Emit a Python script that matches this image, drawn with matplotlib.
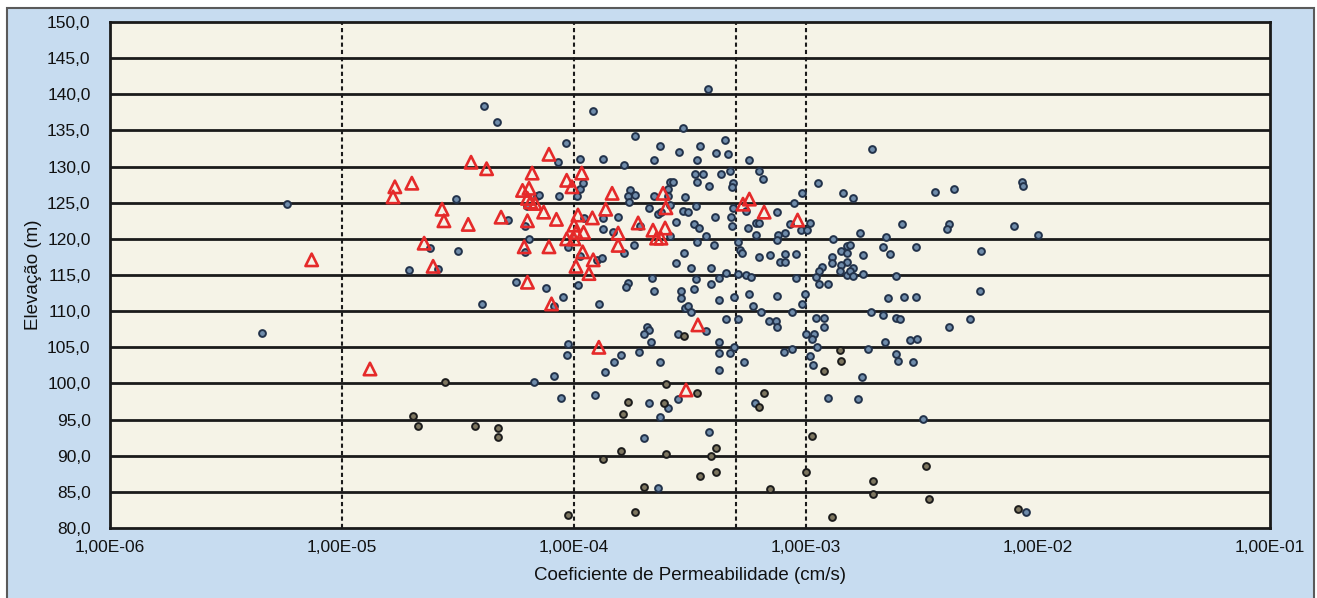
import matplotlib.pyplot as plt
from matplotlib.patches import Rectangle
from matplotlib.ticker import FuncFormatter, FixedLocator

plt.rcParams['font.family'] = ['Liberation Sans', 'DejaVu Sans']

# permeability (cm/s) and elevation (m) - blue samples
k_azul = [5.8e-6, 4.5e-6, 2.4e-5, 2.6e-5, 1.95e-5, 4.1e-5, 4.66e-5, 3.1e-5, 5.2e-5, 3.16e-5,
          1.21e-4, 9.2e-5, 8.5e-5, 1.06e-4, 1.33e-4, 6.9e-5, 7.1e-5, 8.6e-5, 6.3e-5, 1.03e-4,
          1.06e-4, 1.09e-4, 1.1e-4, 1.33e-4, 1.55e-4, 1.33e-4, 1.47e-4, 9.4e-5, 1.06e-4, 1.26e-4,
          1.32e-4, 6.15e-5, 6.4e-5, 6.15e-5, 3.78e-4, 2.95e-4, 1.83e-4, 2.35e-4, 2.84e-4, 3.49e-4,
          4.48e-4, 4.1e-4, 4.6e-4, 2.21e-4, 3.39e-4, 5.7e-4, 1.64e-4, 3.32e-4, 3.6e-4, 4.3e-4,
          4.7e-4, 6.3e-4, 6.5e-4, 3.4e-4, 3.8e-4, 2.6e-4, 2.68e-4, 2.55e-4, 4.85e-4, 4.8e-4,
          1.74e-4, 1.71e-4, 1.83e-4, 2.21e-4, 2.55e-4, 3.0e-4, 1.73e-4, 2.1e-4, 3.35e-4, 2.6e-4,
          2.95e-4, 3.1e-4, 2.3e-4, 2.37e-4, 2.76e-4, 4.05e-4, 4.75e-4, 4.85e-4, 1.93e-4, 3.3e-4,
          3.45e-4, 4.8e-4, 5.6e-4, 6.1e-4, 6.3e-4, 7.5e-4, 8.5e-4, 9.5e-4, 9.6e-4, 8.9e-4,
          5.5e-4, 2.6e-4, 3.7e-4, 3.4e-4, 4.0e-4, 1.81e-4, 1.64e-4, 2.97e-4, 2.76e-4, 3.2e-4,
          3.9e-4, 5.1e-4, 5.2e-4, 5.3e-4, 6.1e-4, 7.6e-4, 7.5e-4, 8.1e-4, 6.3e-4, 7.0e-4,
          7.7e-4, 8.1e-4, 8.1e-4, 9.1e-4, 1.92e-3, 1.13e-3, 1.44e-3, 1.6e-3, 3.6e-3, 4.35e-3,
          2.6e-3, 4.13e-3, 4.05e-3, 1.71e-3, 2.21e-3, 1.31e-3, 1.04e-3, 1.01e-3, 1.5e-3, 1.55e-3,
          1.42e-3, 1.5e-3, 1.76e-3, 2.15e-3, 2.3e-3, 2.98e-3, 5.7e-3, 1.3e-3, 1.29e-3, 1.5e-3,
          1.17e-3, 1.42e-3, 1.6e-3, 8.5e-3, 8.6e-3, 7.9e-3, 1.0e-2, 2.44e-3, 1.76e-3, 2.26e-3,
          2.64e-3, 2.98e-3, 5.6e-3, 1.9e-3, 2.15e-3, 2.45e-3, 2.55e-3, 4.13e-3, 5.1e-3, 2.2e-3,
          2.8e-3, 3.0e-3, 1.85e-3, 2.45e-3, 2.5e-3, 2.9e-3, 1.75e-3, 1.68e-3, 3.2e-3, 8.9e-3,
          1.14e-3, 1.4e-3, 1.5e-3, 1.1e-3, 1.14e-3, 1.25e-3, 9.9e-4, 9.6e-4, 1.1e-3, 1.2e-3,
          1.2e-3, 1.0e-3, 1.08e-3, 1.06e-3, 1.12e-3, 1.04e-3, 1.07e-3, 1.25e-3, 4.5e-4, 2.17e-4,
          3.35e-4, 4.2e-4, 5.1e-4, 5.5e-4, 5.8e-4, 9.1e-4, 1.71e-4, 1.67e-4, 2.21e-4, 2.9e-4,
          2.9e-4, 3.3e-4, 3.9e-4, 4.2e-4, 4.9e-4, 5.7e-4, 7.5e-4, 5.9e-4, 6.4e-4, 8.7e-4,
          3.0e-4, 3.1e-4, 3.2e-4, 4.5e-4, 5.1e-4, 6.9e-4, 7.4e-4, 7.5e-4, 2.07e-4, 2.1e-4,
          2.0e-4, 2.8e-4, 3.7e-4, 2.15e-4, 4.2e-4, 4.9e-4, 8.7e-4, 8.0e-4, 1.6e-4, 1.9e-4,
          4.2e-4, 4.7e-4, 2.35e-4, 5.4e-4, 4.2e-4, 2.1e-4, 2.8e-4, 2.55e-4, 6.0e-4, 2.35e-4,
          3.8e-4, 2.0e-4, 2.3e-4, 4.0e-5, 1.28e-4, 1.49e-4, 1.36e-4, 1.23e-4, 9.4e-5, 9.3e-5,
          8.2e-5, 8.8e-5, 6.7e-5, 5.6e-5, 7.6e-5, 9.0e-5, 8.2e-5, 1.04e-4, 1.55e-3, 1.6e-3]
el_azul = [124.8, 107.0, 118.7, 115.8, 115.7, 138.4, 136.2, 125.5, 122.6, 118.3,
           137.7, 133.2, 130.6, 131.0, 131.0, 125.9, 126.0, 125.9, 124.5, 125.9,
           126.9, 127.7, 122.9, 122.9, 123.0, 121.4, 121.0, 118.9, 117.6, 117.1,
           117.3, 121.8, 120.0, 118.2, 140.7, 135.3, 134.2, 132.8, 132.0, 132.8,
           133.7, 131.9, 131.7, 130.9, 130.9, 130.9, 130.2, 129.0, 129.0, 129.0,
           129.4, 129.4, 128.3, 127.8, 127.3, 127.8, 127.8, 126.9, 127.7, 127.2,
           126.7, 125.9, 126.0, 125.9, 125.9, 125.8, 125.1, 124.3, 124.5, 124.7,
           123.8, 123.7, 123.4, 123.7, 122.3, 123.0, 123.0, 124.3, 121.8, 122.0,
           121.5, 121.8, 121.5, 122.2, 122.2, 123.7, 122.0, 121.2, 126.3, 124.9,
           123.8, 120.4, 120.4, 119.6, 119.1, 119.1, 118.0, 118.0, 116.7, 116.0,
           116.0, 119.6, 118.5, 118.0, 120.5, 120.5, 119.8, 120.8, 117.5, 117.8,
           116.8, 116.8, 117.9, 117.9, 132.4, 127.7, 126.3, 125.6, 126.5, 126.9,
           122.0, 122.0, 121.4, 120.8, 120.2, 120.0, 122.2, 121.2, 119.0, 119.1,
           118.3, 118.0, 117.8, 118.9, 117.9, 118.9, 118.3, 117.5, 116.7, 116.8,
           116.1, 116.4, 116.0, 127.9, 127.3, 121.8, 120.5, 114.9, 115.2, 111.8,
           111.9, 111.9, 112.8, 109.9, 109.5, 109.1, 108.9, 107.8, 108.9, 105.7,
           106.0, 106.1, 104.8, 104.1, 103.1, 103.0, 100.9, 97.8, 95.1, 82.2,
           115.5, 115.5, 115.0, 114.7, 113.7, 113.7, 112.4, 111.0, 109.1, 109.1,
           107.8, 106.8, 106.8, 106.1, 105.0, 103.8, 102.5, 98.0, 115.3, 114.6,
           114.4, 114.6, 115.1, 115.0, 114.7, 114.6, 113.9, 113.3, 112.8, 112.8,
           111.8, 113.1, 113.7, 111.5, 112.0, 112.4, 112.1, 110.7, 109.9, 109.9,
           110.4, 110.7, 109.9, 108.9, 108.9, 108.6, 108.6, 107.8, 107.8, 107.4,
           106.8, 106.8, 107.2, 105.7, 105.7, 105.0, 104.8, 104.3, 103.9, 104.3,
           104.2, 104.2, 103.0, 103.0, 101.9, 97.3, 97.8, 96.6, 97.3, 95.4,
           93.3, 92.4, 85.5, 111.0, 111.0, 103.0, 101.6, 98.4, 105.4, 103.9,
           101.0, 98.0, 100.2, 114.0, 113.2, 112.0, 110.7, 113.6, 115.5, 114.9]

# darker samples (mostly the deeper ones)
k_escuro = [2.02e-5, 2.13e-5, 2.78e-5, 3.75e-5, 4.7e-5, 4.7e-5, 9.4e-5, 1.33e-4, 1.6e-4, 1.62e-4,
            1.71e-4, 1.83e-4, 2.0e-4, 2.45e-4, 2.5e-4, 2.5e-4, 2.97e-4, 3.4e-4, 3.5e-4, 3.9e-4,
            4.1e-4, 4.1e-4, 6.6e-4, 6.3e-4, 7.0e-4, 1.0e-3, 1.06e-3, 1.19e-3, 1.3e-3, 1.4e-3,
            1.42e-3, 1.95e-3, 1.95e-3, 3.3e-3, 3.4e-3, 8.2e-3]
el_escuro = [95.5, 94.1, 100.2, 94.1, 93.9, 92.6, 81.8, 89.5, 90.6, 95.8,
             97.4, 82.2, 85.7, 97.3, 99.9, 90.2, 106.6, 98.7, 87.2, 90.0,
             91.0, 87.7, 98.7, 96.7, 85.4, 87.7, 92.7, 101.7, 81.5, 104.6,
             103.1, 86.5, 84.7, 88.6, 84.0, 82.6]

# red triangles
k_tri = [2.0e-5, 3.6e-5, 4.2e-5, 7.8e-5, 6.6e-5, 9.3e-5, 1.08e-4, 9.8e-5, 1.46e-4, 6.0e-5,
         6.4e-5, 6.3e-5, 6.5e-5, 6.8e-5, 2.7e-5, 2.75e-5, 3.5e-5, 4.85e-5, 7.4e-5, 8.4e-5,
         1.04e-4, 1.37e-4, 1.2e-4, 6.3e-5, 1.0e-4, 1.02e-4, 1.1e-4, 1.55e-4, 9.3e-5, 1.0e-4,
         6.1e-5, 7.8e-5, 1.09e-4, 1.21e-4, 1.02e-4, 1.16e-4, 6.3e-5, 2.26e-5, 2.47e-5, 1.89e-4,
         1.55e-4, 2.42e-4, 2.49e-4, 2.19e-4, 2.47e-4, 2.27e-4, 2.37e-4, 5.35e-4, 5.7e-4, 6.6e-4,
         9.2e-4, 7.4e-6, 1.32e-5, 1.66e-5, 1.69e-5, 8.0e-5, 1.28e-4, 3.42e-4, 3.04e-4]
el_tri = [127.7, 130.6, 129.7, 131.7, 129.1, 128.1, 129.1, 127.2, 126.3, 126.7,
          127.0, 125.6, 125.1, 124.9, 124.1, 122.5, 122.0, 123.0, 123.7, 122.7,
          123.3, 124.1, 122.9, 122.5, 121.9, 120.9, 120.9, 120.8, 120.0, 120.0,
          118.9, 118.9, 118.2, 117.1, 116.2, 115.2, 114.0, 119.4, 116.2, 122.2,
          119.1, 126.3, 124.3, 121.2, 121.5, 120.1, 120.1, 124.8, 125.5, 123.7,
          122.6, 117.1, 102.0, 125.8, 127.2, 111.0, 105.0, 108.1, 99.1]

linhas_k = [1e-5, 1e-4, 5e-4, 1e-3]
yticks = list(range(80, 151, 5))
xticks = [1e-6, 1e-5, 1e-4, 1e-3, 1e-2, 1e-1]

fig = plt.figure(figsize=(13.17, 5.98), dpi=100, facecolor='white')
fig.patches.append(Rectangle((7 / 1317, -0.01), 1307 / 1317, 0.997, transform=fig.transFigure,
                             facecolor='#c7dcf0', edgecolor='#5a5a5a', lw=1.5, zorder=-5))
ax = fig.add_axes([110 / 1317, 1 - 528 / 598, 1160 / 1317, 506 / 598])
ax.set_zorder(2)
ax.set_facecolor('#f5f3e7')

ax.set_xscale('log')
ax.set_xlim(1e-6, 1e-1)
ax.set_ylim(80, 150)
ax.xaxis.set_major_locator(FixedLocator(xticks))
ax.xaxis.set_minor_locator(FixedLocator([]))
ax.yaxis.set_major_locator(FixedLocator(yticks))
ax.xaxis.set_major_formatter(FuncFormatter(lambda v, p: f'{v:.2E}'.replace('.', ',')))
ax.yaxis.set_major_formatter(FuncFormatter(lambda v, p: f'{v:.1f}'.replace('.', ',')))

for y in yticks[1:-1]:
    ax.axhline(y, color='#1a1a1a', lw=2, zorder=1)
for k in linhas_k:
    ax.axvline(k, color='#1a1a1a', lw=1.5, ls=(0, (2, 1.5)), zorder=1)

ax.scatter(k_azul, el_azul, s=24, facecolor='#6f8cab', edgecolor='#22324a', lw=1.4, zorder=3)
ax.scatter(k_escuro, el_escuro, s=24, facecolor='#7d7660', edgecolor='#1c1c1c', lw=1.4, zorder=3)
ax.scatter(k_tri, el_tri, s=80, marker='^', facecolor='none', edgecolor='#e52a2a', lw=1.9, zorder=4)

for s in ax.spines.values():
    s.set_linewidth(2)
    s.set_color('#1a1a1a')
ax.tick_params(length=0, labelsize=12.5, colors='#111111')
ax.tick_params(axis='x', pad=9)
ax.tick_params(axis='y', pad=14)
ax.set_xlabel('Coeficiente de Permeabilidade (cm/s)', fontsize=13.5, color='#111111', labelpad=8)
ax.set_ylabel('Elevação (m)', fontsize=13.5, color='#111111', labelpad=4)

fig.savefig('out.png', dpi=100)
